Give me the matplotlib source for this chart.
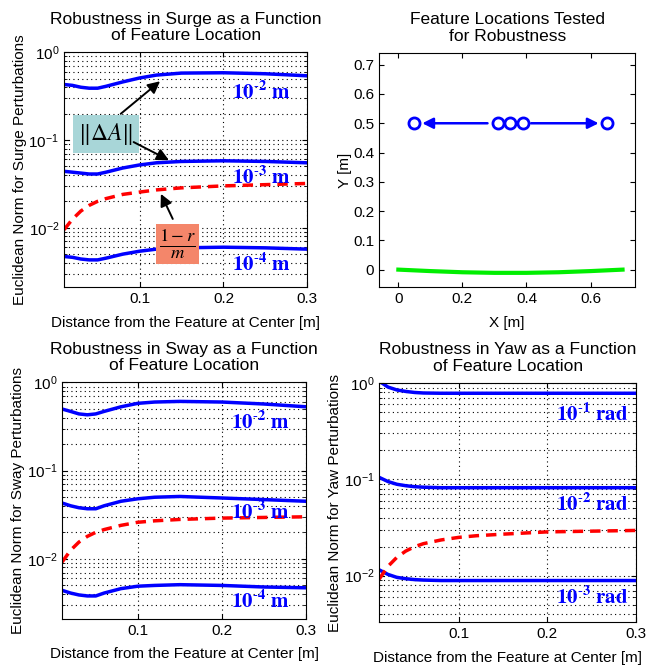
import numpy as np
import matplotlib
matplotlib.use('Agg')
import matplotlib.pyplot as plt
from matplotlib.ticker import LogLocator, FixedLocator, FormatStrFormatter

plt.rcParams['font.family'] = ['Liberation Sans', 'DejaVu Sans']
plt.rcParams['mathtext.fontset'] = 'stix'

# distancia da feature central [m]
dist = [0.01, 0.02, 0.03, 0.04, 0.05, 0.06, 0.08, 0.10, 0.12, 0.15, 0.20, 0.25, 0.30]

# surge
surge_e2 = [0.43, 0.42, 0.40, 0.39, 0.39, 0.41, 0.46, 0.51, 0.55, 0.58, 0.585, 0.57, 0.54]
surge_e3 = [0.044, 0.043, 0.042, 0.041, 0.041, 0.043, 0.048, 0.052, 0.055, 0.057, 0.058, 0.057, 0.055]
surge_e4 = [0.0047, 0.0046, 0.0044, 0.0043, 0.0043, 0.0045, 0.0050, 0.0054, 0.0057, 0.0059, 0.0060, 0.0059, 0.0057]
surge_lim = [0.0095, 0.0125, 0.0155, 0.018, 0.020, 0.0215, 0.024, 0.0255, 0.027, 0.0285, 0.030, 0.031, 0.032]

# sway
sway_e2 = [0.50, 0.47, 0.44, 0.43, 0.44, 0.47, 0.53, 0.58, 0.60, 0.61, 0.60, 0.57, 0.53]
sway_e3 = [0.043, 0.040, 0.038, 0.037, 0.037, 0.040, 0.045, 0.048, 0.050, 0.051, 0.049, 0.047, 0.045]
sway_e4 = [0.0044, 0.0041, 0.0039, 0.0038, 0.0038, 0.0041, 0.0046, 0.0049, 0.0050, 0.0051, 0.0050, 0.0048, 0.0047]
sway_lim = [0.0092, 0.0125, 0.0155, 0.018, 0.020, 0.0215, 0.024, 0.026, 0.027, 0.028, 0.029, 0.0295, 0.030]

# yaw
yaw_e1 = [1.05, 0.91, 0.85, 0.82, 0.80, 0.79, 0.785, 0.785, 0.785, 0.785, 0.785, 0.785, 0.785]
yaw_e2 = [0.105, 0.095, 0.089, 0.086, 0.084, 0.083, 0.082, 0.082, 0.082, 0.082, 0.082, 0.082, 0.082]
yaw_e3 = [0.0115, 0.0103, 0.0096, 0.0093, 0.0091, 0.0090, 0.0089, 0.0089, 0.0089, 0.0089, 0.0089, 0.0089, 0.0089]
yaw_lim = [0.0092, 0.0125, 0.0155, 0.018, 0.020, 0.0215, 0.0235, 0.025, 0.026, 0.027, 0.0285, 0.029, 0.0295]

# locais testados
feat_x = [0.05, 0.31, 0.35, 0.39, 0.65]
feat_y = [0.5, 0.5, 0.5, 0.5, 0.5]
hull_x = [0.0, 0.1, 0.2, 0.3, 0.4, 0.5, 0.6, 0.7]
hull_y = [0.0, -0.005, -0.009, -0.011, -0.011, -0.009, -0.005, 0.0]

BLUE = '#0000ff'
RED = '#ff0000'
GRID = dict(ls=(0, (1, 3)), color='k', lw=0.8)

fig = plt.figure(figsize=(6.47, 6.71), dpi=100)
ax_surge = fig.add_axes([0.099, 0.572, 0.376, 0.350])
ax_loc = fig.add_axes([0.586, 0.572, 0.396, 0.349])
ax_sway = fig.add_axes([0.096, 0.078, 0.377, 0.352])
ax_yaw = fig.add_axes([0.586, 0.073, 0.397, 0.356])


def estilo_log(ax, ylo, titulo, ylabel):
    ax.set_yscale('log')
    ax.set_xlim(0.01, 0.3)
    ax.set_ylim(ylo, 1)
    ax.xaxis.set_major_locator(FixedLocator([0.1, 0.2, 0.3]))
    ax.xaxis.set_major_formatter(FormatStrFormatter('%.1f'))
    ax.yaxis.set_major_locator(LogLocator(base=10, numticks=10))
    ax.yaxis.set_minor_locator(LogLocator(base=10, subs=np.arange(2, 10), numticks=10))
    ax.tick_params(which='both', direction='in', top=True, right=True, labelsize=11)
    ax.grid(True, which='major', **GRID)
    ax.grid(True, which='minor', axis='y', **GRID)
    ax.set_title(titulo, fontsize=12.5, pad=9, linespacing=1.1)
    ax.set_ylabel(ylabel, fontsize=11, labelpad=1)
    ax.set_xlabel('Distance from the Feature at Center [m]', fontsize=11, labelpad=7)


def rotulo(ax, x, y, s):
    ax.text(x, y, s, color=BLUE, fontsize=15, ha='center', va='center')


# surge
ax = ax_surge
for serie in (surge_e2, surge_e3, surge_e4):
    ax.plot(dist, serie, color=BLUE, lw=2.5)
ax.plot(dist, surge_lim, color=RED, lw=2.5, ls='--', dashes=(3, 2))
estilo_log(ax, 0.0021, 'Robustness in Surge as a Function\nof Feature Location',
           'Euclidean Norm for Surge Perturbations')
rotulo(ax, 0.245, 0.36, r'$\mathbf{10^{\text{-}2}\ m}$')
rotulo(ax, 0.245, 0.038, r'$\mathbf{10^{\text{-}3}\ m}$')
rotulo(ax, 0.245, 0.0039, r'$\mathbf{10^{\text{-}4}\ m}$')
ax.text(0.06, 0.118, r'$\Vert\Delta A\Vert$', fontsize=17, ha='center', va='center',
        bbox=dict(boxstyle='square,pad=0.25', fc='#a8d6d8', ec='none'))
ax.text(0.145, 0.0065, r'$\frac{1-r}{m}$', fontsize=19, ha='center', va='center',
        bbox=dict(boxstyle='square,pad=0.12', fc='#f4866a', ec='none'))
seta = dict(arrowstyle='-|>', color='k', lw=1.4, mutation_scale=18)
ax.annotate('', xy=(0.127, 0.49), xytext=(0.075, 0.19), arrowprops=seta)
ax.annotate('', xy=(0.138, 0.057), xytext=(0.09, 0.098), arrowprops=seta)
ax.annotate('', xy=(0.124, 0.026), xytext=(0.141, 0.0118), arrowprops=seta)

# locais
ax = ax_loc
ax.plot(hull_x, hull_y, color='#00ee00', lw=3)
ax.annotate('', xy=(0.066, 0.5), xytext=(0.287, 0.5),
            arrowprops=dict(arrowstyle='-|>', color=BLUE, lw=1.8, mutation_scale=16))
ax.annotate('', xy=(0.634, 0.5), xytext=(0.406, 0.5),
            arrowprops=dict(arrowstyle='-|>', color=BLUE, lw=1.8, mutation_scale=16))
ax.plot(feat_x, feat_y, 'o', color=BLUE, mfc='white', mew=2, ms=8, ls='none')
ax.set_xlim(-0.06, 0.74)
ax.set_ylim(-0.06, 0.74)
ax.set_xticks([0, 0.2, 0.4, 0.6])
ax.set_xticklabels(['0', '0.2', '0.4', '0.6'])
ax.set_yticks([0, 0.1, 0.2, 0.3, 0.4, 0.5, 0.6, 0.7])
ax.set_yticklabels(['0', '0.1', '0.2', '0.3', '0.4', '0.5', '0.6', '0.7'])
ax.tick_params(direction='in', top=True, right=True, labelsize=11)
ax.set_title('Feature Locations Tested\nfor Robustness', fontsize=12.5, pad=9, linespacing=1.1)
ax.set_xlabel('X [m]', fontsize=11, labelpad=7)
ax.set_ylabel('Y [m]', fontsize=11, labelpad=1)

# sway
ax = ax_sway
for serie in (sway_e2, sway_e3, sway_e4):
    ax.plot(dist, serie, color=BLUE, lw=2.5)
ax.plot(dist, sway_lim, color=RED, lw=2.5, ls='--', dashes=(3, 2))
estilo_log(ax, 0.0021, 'Robustness in Sway as a Function\nof Feature Location',
           'Euclidean Norm for Sway Perturbations')
rotulo(ax, 0.245, 0.36, r'$\mathbf{10^{\text{-}2}\ m}$')
rotulo(ax, 0.245, 0.034, r'$\mathbf{10^{\text{-}3}\ m}$')
rotulo(ax, 0.245, 0.0034, r'$\mathbf{10^{\text{-}4}\ m}$')

# yaw
ax = ax_yaw
for serie in (yaw_e1, yaw_e2, yaw_e3):
    ax.plot(dist, serie, color=BLUE, lw=2.5)
ax.plot(dist, yaw_lim, color=RED, lw=2.5, ls='--', dashes=(3, 2))
estilo_log(ax, 0.0033, 'Robustness in Yaw as a Function\nof Feature Location',
           'Euclidean Norm for Yaw Perturbations')
rotulo(ax, 0.25, 0.48, r'$\mathbf{10^{\text{-}1}\ rad}$')
rotulo(ax, 0.25, 0.056, r'$\mathbf{10^{\text{-}2}\ rad}$')
rotulo(ax, 0.25, 0.006, r'$\mathbf{10^{\text{-}3}\ rad}$')

fig.savefig('out.png', dpi=100)
